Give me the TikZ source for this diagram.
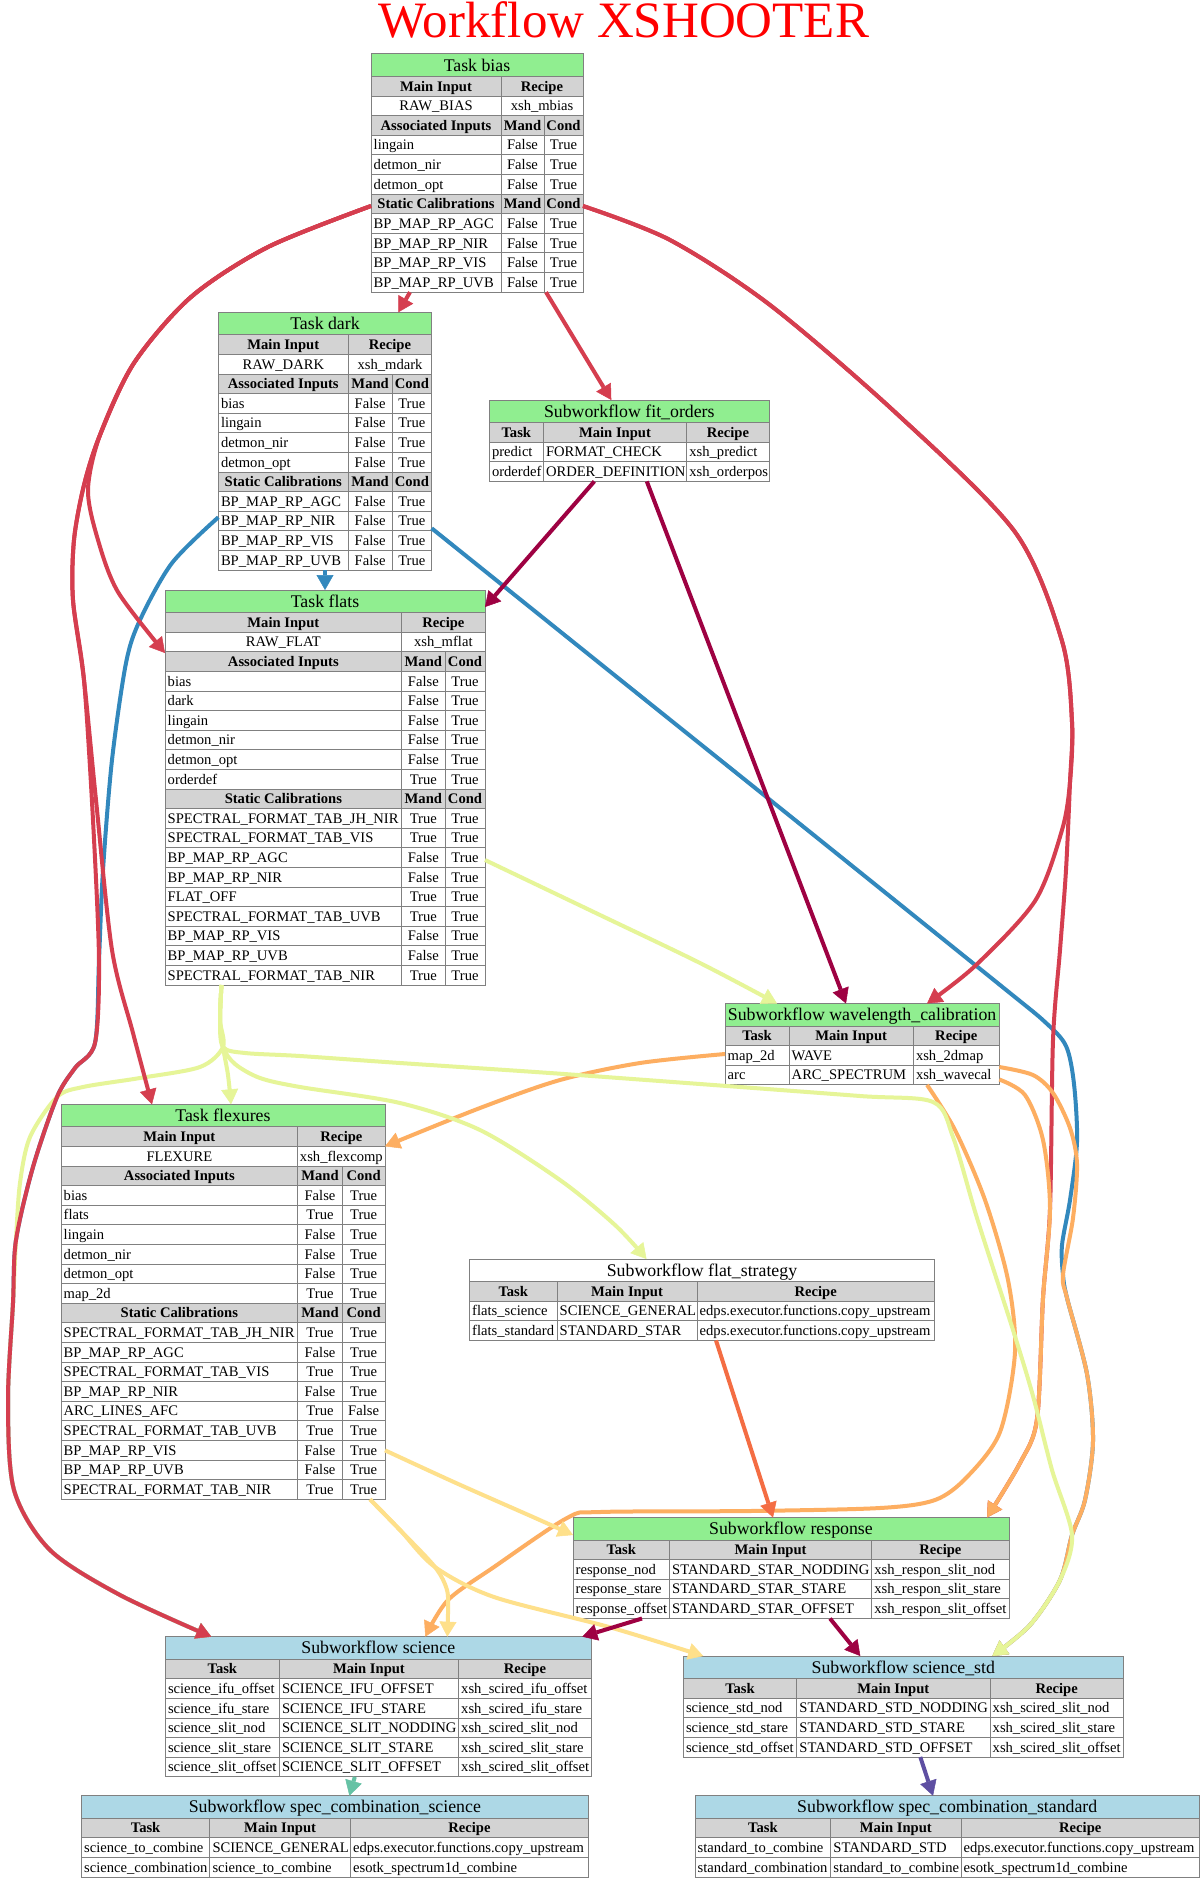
\documentclass[tikz,border=0pt]{standalone}
\usepackage{fontspec}
\setmainfont{Liberation Serif}
\usetikzlibrary{arrows.meta}
\definecolor{cRed}{HTML}{D53E4F}
\definecolor{cMaroon}{HTML}{9E0142}
\definecolor{cBlue}{HTML}{3288BD}
\definecolor{cYG}{HTML}{E6F598}
\definecolor{cOrange}{HTML}{FDAE61}
\definecolor{cOrRed}{HTML}{F46D43}
\definecolor{cYellow}{HTML}{FEE08B}
\definecolor{cTeal}{HTML}{66C2A5}
\definecolor{cPurple}{HTML}{5E4FA2}
\definecolor{lgreen}{HTML}{90EE90}
\definecolor{lblue}{HTML}{ADD8E6}
\definecolor{lgray}{HTML}{D3D3D3}
\definecolor{tline}{HTML}{808080}
\newcounter{cn}
\newcommand\bodyf{\fontsize{14.6}{17}\selectfont}
\newcommand\titf{\fontsize{17.8}{20}\selectfont}
\tikzset{
  cellline/.style={draw=tline, line width=1pt},
  txt/.style={inner sep=0pt, font=\bodyf},
  ttxt/.style={inner sep=0pt, font=\titf},
  tblnode/.style={draw=none, inner sep=0pt, outer sep=0pt},
  conn/.style={line width=4pt, -{Triangle[length=15pt,width=17pt,line width=0.5pt]}},
}
\newcommand\TabBegin[9]{%
  \xdef\Xa{#2}\xdef\Xb{#3}\xdef\Xc{#4}\xdef\Xd{#5}%
  \pgfmathsetmacro\tH{22.6+#7*19.6}%
  \pgfmathsetmacro\tW{#5-#2}%
  \node[tblnode, minimum width=\tW pt, minimum height=\tH pt, anchor=north west] (#1) at (#2,#6) {};%
  \filldraw[cellline, fill=#8] (#2,#6) rectangle (#5,{#6+22.6});%
  \stepcounter{cn}%
  \node[ttxt, anchor=base, name=c\arabic{cn}] at ({(#2+#5)/2},{#6+22.6-5.4}) {#9};%
  \pgfmathsetmacro\Cyy{#6+22.6}\global\let\Cy\Cyy}
\newcommand\rowstart{\pgfmathsetmacro\Nyy{\Cy+19.6}\global\let\Ny\Nyy}
\newcommand\rowfinish{\global\let\Cy\Ny}
\newcommand\cbox[3]{\filldraw[cellline, fill=#3] (#1,\Cy) rectangle (#2,\Ny);}
\newcommand\ctxt[3]{\stepcounter{cn}\node[txt, anchor=base, name=c\arabic{cn}] at ({(#1+#2)/2},{\Ny-5}) {#3};}
\newcommand\ltxt[2]{\stepcounter{cn}\node[txt, anchor=base west, name=c\arabic{cn}] at ({#1+2.5},{\Ny-5}) {#2};}
\newcommand\HTwo[2]{\rowstart\cbox{\Xa}{\Xb}{lgray}\cbox{\Xb}{\Xd}{lgray}\ctxt{\Xa}{\Xb}{\textbf{#1}}\ctxt{\Xb}{\Xd}{\textbf{#2}}\rowfinish}
\newcommand\VTwo[2]{\rowstart\cbox{\Xa}{\Xb}{white}\cbox{\Xb}{\Xd}{white}\ctxt{\Xa}{\Xb}{#1}\ctxt{\Xb}{\Xd}{#2}\rowfinish}
\newcommand\HThree[3]{\rowstart\cbox{\Xa}{\Xb}{lgray}\cbox{\Xb}{\Xc}{lgray}\cbox{\Xc}{\Xd}{lgray}\ctxt{\Xa}{\Xb}{\textbf{#1}}\ctxt{\Xb}{\Xc}{\textbf{#2}}\ctxt{\Xc}{\Xd}{\textbf{#3}}\rowfinish}
\newcommand\TRow[3]{\rowstart\cbox{\Xa}{\Xb}{white}\cbox{\Xb}{\Xc}{white}\cbox{\Xc}{\Xd}{white}\ltxt{\Xa}{#1}\ctxt{\Xb}{\Xc}{#2}\ctxt{\Xc}{\Xd}{#3}\rowfinish}
\newcommand\SRow[3]{\rowstart\cbox{\Xa}{\Xb}{white}\cbox{\Xb}{\Xc}{white}\cbox{\Xc}{\Xd}{white}\ltxt{\Xa}{#1}\ltxt{\Xb}{#2}\ltxt{\Xc}{#3}\rowfinish}
\begin{document}
\begin{tikzpicture}[x=1pt,y=-1pt]
\useasboundingbox (0,0) rectangle (1200,1878);
\fill[white] (0,0) rectangle (1200,1878);
\node[inner sep=0pt, font=\fontsize{51}{58}\selectfont, text=red, anchor=base] (title) at (624,38) {Workflow XSHOOTER};

% ---------- tables ----------
\TabBegin{bias}{371}{501}{544}{583}{54}{11}{lgreen}{Task bias}
\HTwo{Main Input}{Recipe}
\VTwo{RAW\_BIAS}{xsh\_mbias}
\HThree{Associated Inputs}{Mand}{Cond}
\TRow{lingain}{False}{True}
\TRow{detmon\_nir}{False}{True}
\TRow{detmon\_opt}{False}{True}
\HThree{Static Calibrations}{Mand}{Cond}
\TRow{BP\_MAP\_RP\_AGC}{False}{True}
\TRow{BP\_MAP\_RP\_NIR}{False}{True}
\TRow{BP\_MAP\_RP\_VIS}{False}{True}
\TRow{BP\_MAP\_RP\_UVB}{False}{True}

\TabBegin{dark}{218.3}{348.3}{392}{431.7}{312.3}{12}{lgreen}{Task dark}
\HTwo{Main Input}{Recipe}
\VTwo{RAW\_DARK}{xsh\_mdark}
\HThree{Associated Inputs}{Mand}{Cond}
\TRow{bias}{False}{True}
\TRow{lingain}{False}{True}
\TRow{detmon\_nir}{False}{True}
\TRow{detmon\_opt}{False}{True}
\HThree{Static Calibrations}{Mand}{Cond}
\TRow{BP\_MAP\_RP\_AGC}{False}{True}
\TRow{BP\_MAP\_RP\_NIR}{False}{True}
\TRow{BP\_MAP\_RP\_VIS}{False}{True}
\TRow{BP\_MAP\_RP\_UVB}{False}{True}

\TabBegin{fit}{489.3}{543.3}{686.7}{769.3}{400}{3}{lgreen}{Subworkflow fit\_orders}
\HThree{Task}{Main Input}{Recipe}
\SRow{predict}{FORMAT\_CHECK}{xsh\_predict}
\SRow{orderdef}{ORDER\_DEFINITION}{xsh\_orderpos}

\TabBegin{flats}{165}{401.7}{445}{485}{590}{19}{lgreen}{Task flats}
\HTwo{Main Input}{Recipe}
\VTwo{RAW\_FLAT}{xsh\_mflat}
\HThree{Associated Inputs}{Mand}{Cond}
\TRow{bias}{False}{True}
\TRow{dark}{False}{True}
\TRow{lingain}{False}{True}
\TRow{detmon\_nir}{False}{True}
\TRow{detmon\_opt}{False}{True}
\TRow{orderdef}{True}{True}
\HThree{Static Calibrations}{Mand}{Cond}
\TRow{SPECTRAL\_FORMAT\_TAB\_JH\_NIR}{True}{True}
\TRow{SPECTRAL\_FORMAT\_TAB\_VIS}{True}{True}
\TRow{BP\_MAP\_RP\_AGC}{False}{True}
\TRow{BP\_MAP\_RP\_NIR}{False}{True}
\TRow{FLAT\_OFF}{True}{True}
\TRow{SPECTRAL\_FORMAT\_TAB\_UVB}{True}{True}
\TRow{BP\_MAP\_RP\_VIS}{False}{True}
\TRow{BP\_MAP\_RP\_UVB}{False}{True}
\TRow{SPECTRAL\_FORMAT\_TAB\_NIR}{True}{True}

\TabBegin{wl}{725}{789}{913.3}{999.3}{1003.5}{3}{lgreen}{Subworkflow wavelength\_calibration}
\HThree{Task}{Main Input}{Recipe}
\SRow{map\_2d}{WAVE}{xsh\_2dmap}
\SRow{arc}{ARC\_SPECTRUM}{xsh\_wavecal}

\TabBegin{flex}{61}{297.7}{342.3}{385}{1104.3}{19}{lgreen}{Task flexures}
\HTwo{Main Input}{Recipe}
\VTwo{FLEXURE}{xsh\_flexcomp}
\HThree{Associated Inputs}{Mand}{Cond}
\TRow{bias}{False}{True}
\TRow{flats}{True}{True}
\TRow{lingain}{False}{True}
\TRow{detmon\_nir}{False}{True}
\TRow{detmon\_opt}{False}{True}
\TRow{map\_2d}{True}{True}
\HThree{Static Calibrations}{Mand}{Cond}
\TRow{SPECTRAL\_FORMAT\_TAB\_JH\_NIR}{True}{True}
\TRow{BP\_MAP\_RP\_AGC}{False}{True}
\TRow{SPECTRAL\_FORMAT\_TAB\_VIS}{True}{True}
\TRow{BP\_MAP\_RP\_NIR}{False}{True}
\TRow{ARC\_LINES\_AFC}{True}{False}
\TRow{SPECTRAL\_FORMAT\_TAB\_UVB}{True}{True}
\TRow{BP\_MAP\_RP\_VIS}{False}{True}
\TRow{BP\_MAP\_RP\_UVB}{False}{True}
\TRow{SPECTRAL\_FORMAT\_TAB\_NIR}{True}{True}

\TabBegin{fs}{469.5}{557}{697}{934.5}{1259}{3}{white}{Subworkflow flat\_strategy}
\HThree{Task}{Main Input}{Recipe}
\SRow{flats\_science}{SCIENCE\_GENERAL}{edps.executor.functions.copy\_upstream}
\SRow{flats\_standard}{STANDARD\_STAR}{edps.executor.functions.copy\_upstream}

\TabBegin{resp}{573}{669.5}{871.7}{1009}{1517.5}{4}{lgreen}{Subworkflow response}
\HThree{Task}{Main Input}{Recipe}
\SRow{response\_nod}{STANDARD\_STAR\_NODDING}{xsh\_respon\_slit\_nod}
\SRow{response\_stare}{STANDARD\_STAR\_STARE}{xsh\_respon\_slit\_stare}
\SRow{response\_offset}{STANDARD\_STAR\_OFFSET}{xsh\_respon\_slit\_offset}

\TabBegin{sci}{165.3}{279.4}{458.5}{591.3}{1636.7}{6}{lblue}{Subworkflow science}
\HThree{Task}{Main Input}{Recipe}
\SRow{science\_ifu\_offset}{SCIENCE\_IFU\_OFFSET}{xsh\_scired\_ifu\_offset}
\SRow{science\_ifu\_stare}{SCIENCE\_IFU\_STARE}{xsh\_scired\_ifu\_stare}
\SRow{science\_slit\_nod}{SCIENCE\_SLIT\_NODDING}{xsh\_scired\_slit\_nod}
\SRow{science\_slit\_stare}{SCIENCE\_SLIT\_STARE}{xsh\_scired\_slit\_stare}
\SRow{science\_slit\_offset}{SCIENCE\_SLIT\_OFFSET}{xsh\_scired\_slit\_offset}

\TabBegin{std}{683.3}{796.7}{990}{1123.3}{1656}{4}{lblue}{Subworkflow science\_std}
\HThree{Task}{Main Input}{Recipe}
\SRow{science\_std\_nod}{STANDARD\_STD\_NODDING}{xsh\_scired\_slit\_nod}
\SRow{science\_std\_stare}{STANDARD\_STD\_STARE}{xsh\_scired\_slit\_stare}
\SRow{science\_std\_offset}{STANDARD\_STD\_OFFSET}{xsh\_scired\_slit\_offset}

\TabBegin{scs}{81.4}{209.8}{350.5}{588.3}{1795.7}{3}{lblue}{Subworkflow spec\_combination\_science}
\HThree{Task}{Main Input}{Recipe}
\SRow{science\_to\_combine}{SCIENCE\_GENERAL}{edps.executor.functions.copy\_upstream}
\SRow{science\_combination}{science\_to\_combine}{esotk\_spectrum1d\_combine}

\TabBegin{scd}{695}{830.7}{961}{1199.5}{1795.7}{3}{lblue}{Subworkflow spec\_combination\_standard}
\HThree{Task}{Main Input}{Recipe}
\SRow{standard\_to\_combine}{STANDARD\_STD}{edps.executor.functions.copy\_upstream}
\SRow{standard\_combination}{standard\_to\_combine}{esotk\_spectrum1d\_combine}

% ---------- ports ----------
\path (bias.north west) ++(0,152) coordinate (biasW);
\path (bias.north east) ++(0,152) coordinate (biasE);
\path (bias.south west) ++(39,0) coordinate (biasS1);
\path (bias.south west) ++(175,0) coordinate (biasS2);
\path (dark.north west) ++(180,0) coordinate (darkN);
\path (dark.north west) ++(0,205) coordinate (darkW);
\path (dark.north east) ++(0,216) coordinate (darkE);
\path (dark.south west) ++(106.7,0) coordinate (darkS);
\path (fit.north west) ++(122,0) coordinate (fitN);
\path (fit.south west) ++(105,0) coordinate (fitS1);
\path (fit.south west) ++(157.5,0) coordinate (fitS2);
\path (flats.north west) ++(160,0) coordinate (flatsN);
\path (flats.north east) ++(0,17) coordinate (flatsNE);
\path (flats.north west) ++(0,63) coordinate (flatsW);
\path (flats.north east) ++(0,270) coordinate (flatsE);
\path (flats.south west) ++(56.5,0) coordinate (flatsS);
\path (wl.north west) ++(52,0) coordinate (wlN1);
\path (wl.north west) ++(121,0) coordinate (wlN2);
\path (wl.north west) ++(202,0) coordinate (wlN3);
\path (wl.north west) ++(0,50.5) coordinate (wlW);
\path (wl.south west) ++(202,0) coordinate (wlS);
\path (wl.north east) ++(0,63.5) coordinate (wlE1);
\path (wl.north east) ++(0,76) coordinate (wlE2);
\path (flex.north west) ++(91,0) coordinate (flexN1);
\path (flex.north west) ++(170,0) coordinate (flexN2);
\path (flex.north east) ++(0,42) coordinate (flexE);
\path (flex.north east) ++(0,346) coordinate (flexE2);
\path (flex.south west) ++(309,0) coordinate (flexS);
\path (fs.north west) ++(177,0) coordinate (fsN);
\path (fs.south west) ++(246.5,0) coordinate (fsS);
\path (resp.north west) ++(200,0) coordinate (respN1);
\path (resp.north west) ++(414,0) coordinate (respN2);
\path (resp.north west) ++(0,17.5) coordinate (respW);
\path (resp.south west) ++(69,0) coordinate (respS1);
\path (resp.south west) ++(257,0) coordinate (respS2);
\path (sci.north west) ++(46,0) coordinate (sciN1);
\path (sci.north west) ++(260,0) coordinate (sciN2);
\path (sci.north west) ++(282,0) coordinate (sciN3);
\path (sci.north west) ++(417,0) coordinate (sciN4);
\path (sci.south west) ++(189.5,0) coordinate (sciS);
\path (std.north west) ++(20,0) coordinate (stdN1);
\path (std.north west) ++(177,0) coordinate (stdN2);
\path (std.north west) ++(309,0) coordinate (stdN3);
\path (std.south west) ++(237,0) coordinate (stdS);
\path (scs.north west) ++(268,0) coordinate (scsN);
\path (scd.north west) ++(238,0) coordinate (scdN);

% ---------- connectors ----------
% dark (blue)
\draw[conn,cBlue] (darkS) -- (flatsN);
\draw[conn,cBlue] plot[smooth] coordinates {(darkW) (172,563) (140,620) (126,663) (112,760) (103,870) (99,960) (95,1043) (75,1068) (57,1097) (33,1167) (16,1240) (13,1303) (8,1400) (14,1490) (50,1550) (120,1595) (sciN1)};
\draw[conn,cBlue] plot[smooth] coordinates {(darkE) (600,663.5) (800,824) (1000,985) (1045,1022) (1066,1046) (1074,1084) (1077,1142) (1070,1200) (1062,1245) (1063,1275) (1067,1298) (1087,1374) (1093,1441) (1085,1500) (1072,1535) (1060,1580) (1030,1625) (stdN3)};
% flats -> science (under red)
\draw[conn,cYG] plot[smooth] coordinates {(flatsS) (220,1020) (223,1047) (200,1067) (140,1078) (83,1087) (57,1097) (30,1137) (20,1183) (16,1240) (13,1303) (8,1400) (14,1490) (50,1550) (120,1595) (sciN1)};
% bias (red)
\draw[conn,cRed] (biasS1) -- (darkN);
\draw[conn,cRed] (biasS2) -- (fitN);
\draw[conn,cRed] plot[smooth] coordinates {(biasW) (268,247) (191,297) (134,363) (100,435) (88,490) (98,540) (118,592) (flatsW)};
\draw[conn,cRed] plot[smooth] coordinates {(biasW) (268,247) (191,297) (134,363) (100,435) (84,485) (74,540) (73,600) (84,680) (96,800) (112,950) (133,1033) (flexN1)};
\draw[conn,cRed] plot[smooth] coordinates {(biasW) (268,247) (191,297) (134,363) (100,435) (84,485) (74,540) (73,600) (84,680) (93,820) (99,960) (95,1043) (75,1068) (57,1097) (33,1167) (16,1240) (13,1303) (8,1400) (14,1490) (50,1550) (120,1595) (sciN1)};
\draw[conn,cRed] plot[smooth] coordinates {(biasE) (670,240) (770,305) (896,413) (1015,532) (1062,641) (1072,722) (1070,782) (1062,830) (1035,901) (975,966) (wlN3)};
\draw[conn,cRed] plot[smooth] coordinates {(biasE) (670,240) (770,305) (896,413) (1015,532) (1062,641) (1072,722) (1070,782) (1066,870) (1060,950) (1053,1040) (1050,1209) (1043,1298) (1037,1419) (1020,1463) (respN2)};
% wavelength_calibration (orange)
\draw[conn,cOrange] plot[smooth] coordinates {(wlW) (640,1063) (560,1080) (480,1108) (flexE)};
\draw[conn,cOrange] plot[smooth] coordinates {(wlS) (955,1130) (985,1200) (1008,1280) (1015,1352) (1000,1432) (967,1477) (935,1500) (880,1508) (750,1511) (600,1512) (567,1518) (494,1567) (448,1600) (sciN2)};
\draw[conn,cOrange] plot[smooth] coordinates {(wlE2) (1025,1095) (1043,1140) (1050,1209) (1043,1298) (1037,1419) (1020,1463) (respN2)};
\draw[conn,cOrange] plot[smooth] coordinates {(wlE1) (1033,1075) (1053,1093) (1070,1128) (1077,1164) (1073,1218) (1063,1275) (1067,1298) (1087,1374) (1093,1441) (1085,1500) (1072,1535) (1060,1580) (1030,1625) (stdN3)};
% flats (light yellow-green)
\draw[conn,cYG] plot[smooth] coordinates {(flatsE) (600,915) (700,963) (wlN1)};
\draw[conn,cYG] plot[smooth] coordinates {(flatsS) (220,1020) (223,1047) (228,1075) (flexN2)};
\draw[conn,cYG] plot[smooth] coordinates {(flatsS) (220,1020) (223,1047) (235,1064) (260,1078) (300,1087) (400,1103) (480,1130) (560,1180) (615,1225) (fsN)};
\draw[conn,cYG] plot[smooth] coordinates {(flatsS) (220,1020) (223,1047) (245,1053) (300,1056) (400,1063) (550,1073) (700,1084) (860,1096) (933,1102) (953,1137) (977,1218) (1013,1330) (1033,1396) (1052,1470) (1072,1535) (1060,1580) (1030,1625) (stdN3)};
% flexures (yellow)
\draw[conn,cYellow] plot[smooth] coordinates {(flexE2) (456,1483) (533,1517) (respW)};
\draw[conn,cYellow] plot[smooth] coordinates {(flexS) (400,1530) (435,1567) (447,1590) (448,1613) (sciN3)};
\draw[conn,cYellow] plot[smooth] coordinates {(flexS) (400,1530) (435,1567) (494,1597) (609,1627) (stdN1)};
% fit_orders, response (maroon)
\draw[conn,cMaroon] (fitS1) -- (flatsNE);
\draw[conn,cMaroon] (fitS2) -- (wlN2);
\draw[conn,cMaroon] (respS1) -- (sciN4);
\draw[conn,cMaroon] (respS2) -- (stdN2);
% flat_strategy, science, science_std
\draw[conn,cOrRed] (fsS) -- (respN1);
\draw[conn,cTeal] (sciS) -- (scsN);
\draw[conn,cPurple] (stdS) -- (scdN);
\end{tikzpicture}
\end{document}
